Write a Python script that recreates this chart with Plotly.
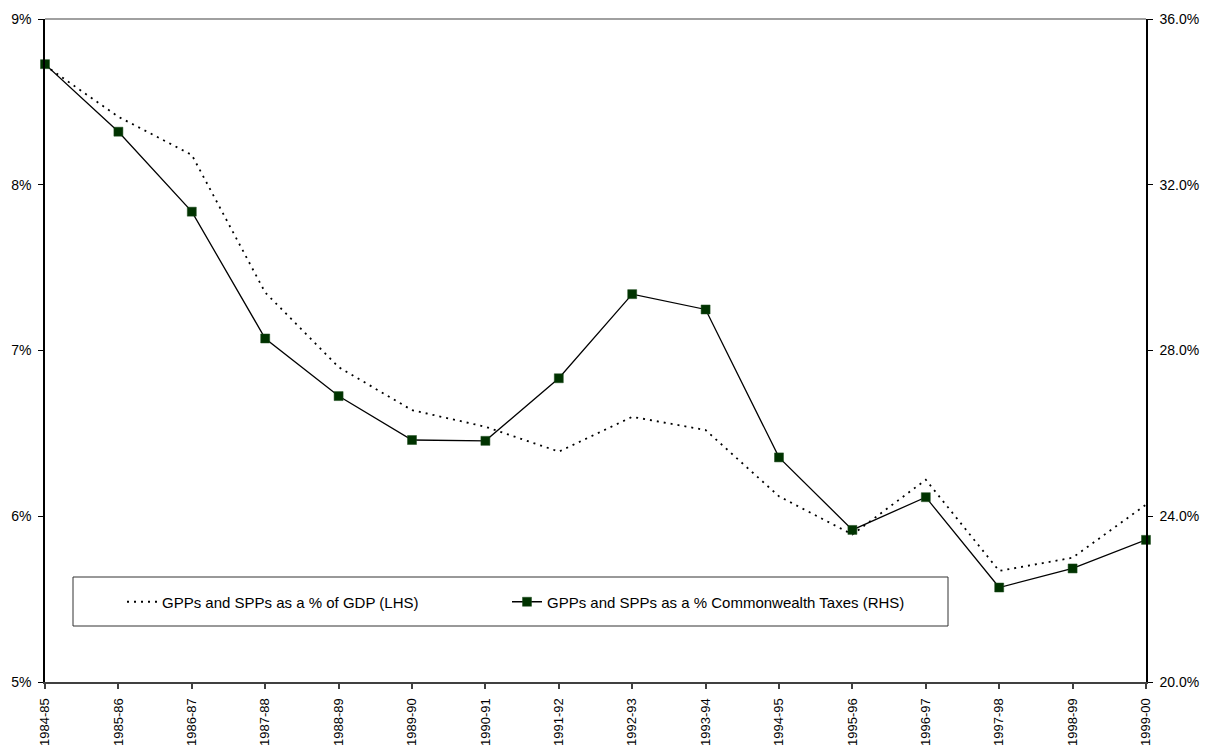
import plotly.graph_objects as go

# Financial years on the category axis
years = ["1984-85", "1985-86", "1986-87", "1987-88", "1988-89", "1989-90",
         "1990-91", "1991-92", "1992-93", "1993-94", "1994-95", "1995-96",
         "1996-97", "1997-98", "1998-99", "1999-00"]

# GPPs and SPPs as a share of GDP (left axis, %)
pct_gdp = [8.72, 8.41, 8.18, 7.35, 6.90, 6.64, 6.54, 6.39, 6.60, 6.52,
           6.12, 5.89, 6.22, 5.67, 5.75, 6.07]

# GPPs and SPPs as a share of Commonwealth taxes (right axis, %)
pct_taxes = [34.91, 33.28, 31.35, 28.29, 26.90, 25.84, 25.82, 27.33, 29.36,
             28.99, 25.42, 23.67, 24.46, 22.28, 22.74, 23.43]

left_ticks = [5, 6, 7, 8, 9]
right_ticks = [20, 24, 28, 32, 36]

FONT = "Liberation Sans, Arial, sans-serif"

fig = go.Figure()

fig.add_trace(go.Scatter(
    x=years, y=pct_gdp, name="GPPs and SPPs as a % of GDP (LHS)",
    mode="lines", yaxis="y", legend="legend",
    line=dict(color="black", width=1.8, dash="2px,5px"),
    cliponaxis=False,
))

fig.add_trace(go.Scatter(
    x=years, y=pct_taxes, name="GPPs and SPPs as a % Commonwealth Taxes (RHS)",
    mode="lines+markers", yaxis="y2", legend="legend2",
    line=dict(color="black", width=1.3),
    marker=dict(symbol="square", size=9, color="#003300",
                line=dict(color="#1f4d1f", width=0.5)),
    cliponaxis=False,
))

# Pixel geometry of the plot area inside the 1208x747 page
W, H = 1208, 747
L, R, T, B = 45, 1146, 19, 682


def px_x(p):
    return (p - L) / (R - L)


def px_y(p):
    return (B - p) / (B - T)


legend_style = dict(
    orientation="h", xanchor="left",
    y=px_y(602), yanchor="middle",
    bgcolor="rgba(0,0,0,0)", borderwidth=0,
    font=dict(family=FONT, size=15, color="black"),
    itemclick=False, itemdoubleclick=False,
)

fig.update_layout(
    width=W, height=H,
    margin=dict(l=L, r=W - R, t=T, b=H - B, pad=0, autoexpand=False),
    paper_bgcolor="white", plot_bgcolor="white",
    font=dict(family=FONT, size=14, color="black"),
    showlegend=True,
    legend=dict(x=px_x(122), **legend_style),
    legend2=dict(x=px_x(507), **legend_style),
    xaxis=dict(
        type="category", range=[0, 15], automargin=False,
        showgrid=False, zeroline=False,
        showline=True, linecolor="#404040", linewidth=2,
        ticks="outside", ticklen=5, tickcolor="#404040", tickwidth=1.5,
        tickangle=-90, tickfont=dict(size=13), ticklabelstandoff=4,
    ),
    yaxis=dict(
        range=[5, 9], tickvals=left_ticks, automargin=False,
        ticktext=[f"{v}%" for v in left_ticks],
        showgrid=False, zeroline=False,
        showline=True, linecolor="black", linewidth=1.5,
        ticks="outside", ticklen=5, tickcolor="black", tickwidth=1,
        tickfont=dict(size=14), ticklabelstandoff=4,
    ),
    yaxis2=dict(
        range=[20, 36], tickvals=right_ticks, automargin=False,
        ticktext=[f"{v:.1f}%" for v in right_ticks],
        overlaying="y", side="right",
        showgrid=False, zeroline=False,
        showline=True, linecolor="black", linewidth=1.5,
        ticks="outside", ticklen=5, tickcolor="black", tickwidth=1,
        tickfont=dict(size=14), ticklabelstandoff=4,
    ),
    shapes=[
        # top border of the plot area
        dict(type="line", xref="paper", yref="paper",
             x0=0, x1=1, y0=1, y1=1,
             line=dict(color="#808080", width=1.5), layer="below"),
        # legend frame
        dict(type="rect", xref="paper", yref="paper",
             x0=px_x(73), x1=px_x(948), y0=px_y(626), y1=px_y(577),
             line=dict(color="#333333", width=1), fillcolor="white",
             layer="below"),
    ],
)

fig.write_html("out.html")
